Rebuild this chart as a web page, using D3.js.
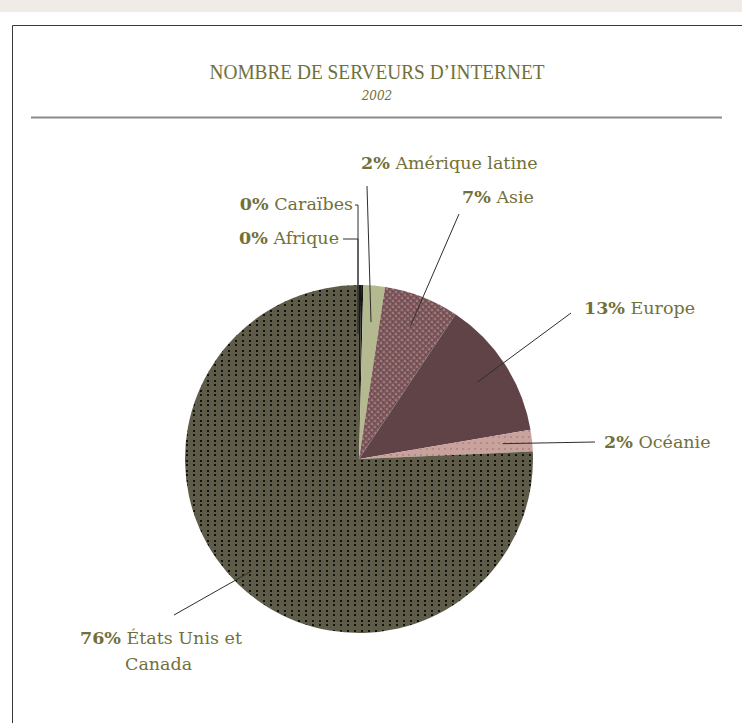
<!DOCTYPE html>
<html>
<head>
<meta charset="utf-8">
<script src="https://cdn.jsdelivr.net/npm/d3@7/dist/d3.min.js"></script>
<style>
  html, body { margin: 0; padding: 0; background: #fff; }
  svg { display: block; }
  text { font-family: "DejaVu Serif", serif; }
  text.title { font-family: "Liberation Serif", "Times New Roman", serif; }
</style>
</head>
<body>
<svg id="chart" width="742" height="723"></svg>
<script>
// Internet servers by region, 2002 (share in %)
const regions = ["Afrique", "Caraïbes", "Amérique latine", "Asie", "Europe", "Océanie", "États Unis et Canada"];
const shares  = [0.2, 0.2, 2, 7, 13, 2, 76];
const fills   = ["#161616", "#161616", "#b4b98f", "url(#pAsie)", "#5f4347", "url(#pOceanie)", "url(#pUS)"];

// label anchors: [x, y of first baseline, text-anchor]
const labelPos = [
  [339, 244, "end"],
  [353, 210, "end"],
  [361, 169, "start"],
  [462, 203, "start"],
  [584, 314, "start"],
  [604, 448, "start"],
  [80, 644, "start"]
];
// outer end of each leader line
const leaderEnd = [
  [[343, 239], [358, 239]],
  [[355, 205], [358, 205]],
  [[367, 186]],
  [[459, 214]],
  [[571, 313]],
  [[595, 442]],
  [[174, 615]]
];
const leaderRadius = [0.72, 0.72, 0.79, 0.82, 0.81, 0.83, 0.89];

const svg = d3.select("#chart");
const W = 742, H = 723;
const olive = "#727039";
const fontSize = 17.5;

// patterns
const defs = svg.append("defs");
const pA = defs.append("pattern").attr("id", "pAsie").attr("patternUnits", "userSpaceOnUse")
  .attr("width", 6).attr("height", 6);
pA.append("rect").attr("width", 6).attr("height", 6).attr("fill", "#7a585b");
pA.append("rect").attr("x", 0).attr("y", 0).attr("width", 2).attr("height", 2).attr("fill", "#a2777a");
pA.append("rect").attr("x", 3).attr("y", 3).attr("width", 2).attr("height", 2).attr("fill", "#a2777a");
pA.append("rect").attr("x", 3).attr("y", 0).attr("width", 1).attr("height", 1).attr("fill", "#5e4346");
pA.append("rect").attr("x", 0).attr("y", 3).attr("width", 1).attr("height", 1).attr("fill", "#5e4346");

const pO = defs.append("pattern").attr("id", "pOceanie").attr("patternUnits", "userSpaceOnUse")
  .attr("width", 6).attr("height", 6);
pO.append("rect").attr("width", 6).attr("height", 6).attr("fill", "#c9a29c");
pO.append("rect").attr("x", 1).attr("y", 1).attr("width", 2).attr("height", 2).attr("fill", "#b08a93");

const pU = defs.append("pattern").attr("id", "pUS").attr("patternUnits", "userSpaceOnUse")
  .attr("width", 7).attr("height", 10);
pU.append("rect").attr("width", 7).attr("height", 10).attr("fill", "#5e5c48");
pU.append("rect").attr("x", 2).attr("y", 1).attr("width", 2).attr("height", 2).attr("fill", "#121210");
pU.append("rect").attr("x", 2).attr("y", 5).attr("width", 2).attr("height", 2).attr("fill", "#121210");

// page frame
svg.append("rect").attr("x", 0).attr("y", 0).attr("width", W).attr("height", 12).attr("fill", "#efebe6");
svg.append("path").attr("d", `M12.5,${H} V25.5 H${W}`).attr("fill", "none").attr("stroke", "#3a3a3a").attr("stroke-width", 1);

// titles
svg.append("text").attr("class", "title").attr("x", 377).attr("y", 79).attr("text-anchor", "middle")
  .attr("font-size", 21).attr("fill", olive)
  .attr("textLength", 335).attr("lengthAdjust", "spacingAndGlyphs")
  .text("NOMBRE DE SERVEURS D’INTERNET");
svg.append("text").attr("x", 377).attr("y", 100).attr("text-anchor", "middle")
  .attr("font-size", 12).attr("font-style", "italic").attr("fill", olive)
  .text("2002");
svg.append("line").attr("x1", 31).attr("x2", 722).attr("y1", 117.5).attr("y2", 117.5)
  .attr("stroke", "#8a8a8a").attr("stroke-width", 2);

// pie
const cx = 359, cy = 459, R = 174;
const g = svg.append("g").attr("transform", `translate(${cx},${cy})`);
const data = regions.map((r, i) => ({ region: r, value: shares[i], i }));
const pie = d3.pie().value(d => d.value).sort(null);
const arcs = pie(data);
const arc = d3.arc().innerRadius(0).outerRadius(R);

g.selectAll("path.slice").data(arcs).join("path")
  .attr("class", "slice")
  .attr("d", arc)
  .attr("fill", d => fills[d.data.i]);

// leader lines
const lines = svg.append("g").attr("fill", "none").attr("stroke", "#2e2e2e").attr("stroke-width", 1);
arcs.forEach(a => {
  const i = a.data.i;
  const mid = (a.startAngle + a.endAngle) / 2;
  const r = R * leaderRadius[i];
  const inner = [cx + r * Math.sin(mid), cy - r * Math.cos(mid)];
  let pts = leaderEnd[i].slice();
  if (i <= 1) {
    // elbow lines run straight down along the slice
    pts.push([pts[pts.length - 1][0], inner[1]]);
  } else {
    pts.push(inner);
  }
  lines.append("path").attr("d", d3.line()(pts));
});

// labels
arcs.forEach(a => {
  const i = a.data.i;
  const [x, y, anchor] = labelPos[i];
  const t = svg.append("text").attr("x", x).attr("y", y).attr("text-anchor", anchor)
    .attr("font-size", fontSize).attr("fill", olive);
  t.append("tspan").attr("font-weight", "bold").text(Math.round(shares[i]) + "%");
  const name = regions[i];
  if (name === "États Unis et Canada") {
    t.append("tspan").text(" États Unis et");
    svg.append("text").attr("x", 125).attr("y", y + 26).attr("font-size", fontSize).attr("fill", olive).text("Canada");
  } else {
    t.append("tspan").text(" " + name);
  }
});
</script>
</body>
</html>
